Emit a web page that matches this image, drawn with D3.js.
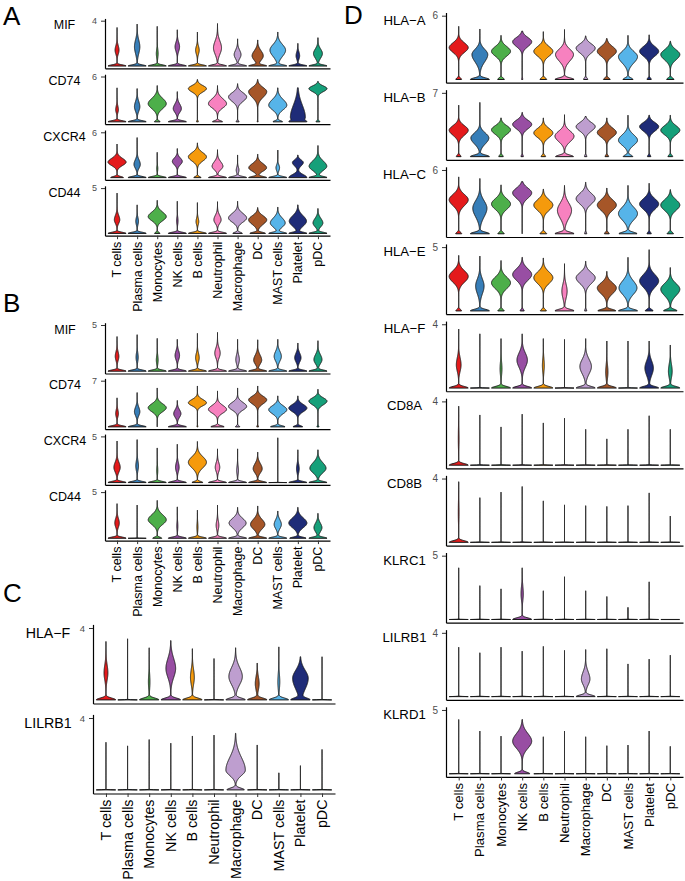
<!DOCTYPE html>
<html><head><meta charset="utf-8">
<script src="https://cdn.jsdelivr.net/npm/d3@7"></script>
<style>body{margin:0;background:#fff}svg{display:block}text{font-family:"Liberation Sans",Arial,Helvetica,sans-serif}</style>
</head><body>
<script>
// ---------------- DATA ----------------
const cellTypes = ["T cells","Plasma cells","Monocytes","NK cells","B cells","Neutrophil","Macrophage","DC","MAST cells","Platelet","pDC"];
const cellColors = ["#E41A1C","#377EB8","#4DAF4A","#984EA3","#F59A0C","#F781BF","#BE9ECF","#A65628","#56B4E9","#1F2C78","#16A07A"];

// violin parameters per cell type: [max, mode, bulgeWidth, sdBelow, sdAbove, zeroWidth, (zeroSpread)]
const panelA_genes = ["MIF","CD74","CXCR4","CD44"];
const panelA_ticks = [4,6,6,5];
const A_MIF = [[3.4,1.4,0.22,0.35,0.4,1],[3.7,1.7,0.3,0.6,0.6,1],[3.5,1.1,0.1,0.4,0.4,1],[3.2,1.7,0.25,0.4,0.4,1],[3.0,1.4,0.2,0.35,0.35,1],[3.75,1.6,0.45,0.55,0.6,1],[2.4,1.0,0.38,0.35,0.4,1],[2.3,0.9,0.65,0.4,0.45,1],[3.0,1.4,0.85,0.55,0.5,0.95],[2.0,0.9,0.2,0.3,0.35,1],[2.5,1.1,0.5,0.4,0.4,1]];
const A_CD74 = [[4.5,1.6,0.15,0.4,0.5,1],[4.4,2.0,0.3,0.6,0.7,1],[4.8,2.4,0.95,0.65,0.7,0.3],[4.0,1.75,0.45,0.5,0.6,1],[5.6,4.4,1,0.45,0.4,0.1],[4.8,2.4,0.9,0.55,0.65,0.5],[5.05,3.3,0.95,0.6,0.55,0.15],[5.6,4.0,1,0.75,0.55,0.05],[4.5,2.2,0.95,0.6,0.75,0.5],[4.5,0.6,1,0.5,1.6,0.7],[5.35,4.4,0.95,0.4,0.35,0.2]];
const A_CXCR4 = [[4.45,2.05,0.85,0.45,0.5,0.6],[5.3,1.75,0.35,0.5,0.6,1],[3.35,1.2,0.06,0.4,0.4,1],[3.85,2.15,0.55,0.45,0.45,1],[4.6,2.75,1,0.55,0.55,0.4],[3.7,1.5,0.6,0.45,0.6,1],[3.0,1.0,0.15,0.4,0.4,1],[3.1,1.3,0.9,0.45,0.55,0.9],[3.65,1.3,0.2,0.4,0.4,1],[3.0,2.0,0.6,0.45,0.35,1,0.4],[4.25,1.5,1,0.55,0.7,1]];
const A_CD44 = [[4.45,1.5,0.3,0.4,0.5,1],[3.15,1.35,0.15,0.4,0.4,1],[3.65,1.85,1,0.45,0.5,0.3],[3.55,1.4,0.08,0.4,0.4,1],[3.4,1.3,0.15,0.35,0.4,1],[3.5,1.5,0.4,0.4,0.5,1],[3.55,1.7,0.95,0.45,0.5,0.5],[2.85,1.5,1,0.5,0.45,0.85],[2.9,1.15,0.85,0.45,0.55,1],[3.15,1.35,1,0.55,0.6,1],[2.75,1.15,0.55,0.4,0.5,1]];

const panelB_genes = ["MIF","CD74","CXCR4","CD44"];
const panelB_ticks = [5,7,5,5];
const B_MIF = [[3.75,1.6,0.2,0.45,0.5,1],[3.95,1.5,0.12,0.45,0.5,1],[3.55,1.2,0.1,0.45,0.5,1],[3.45,1.7,0.25,0.45,0.5,1],[4.1,1.45,0.2,0.45,0.5,1],[4.2,1.95,0.3,0.5,0.55,1],[3.45,1.25,0.2,0.45,0.5,1],[3.4,1.2,0.45,0.45,0.55,1],[3.45,1.6,0.4,0.5,0.55,1],[3.05,1.45,0.35,0.45,0.5,1],[3.3,1.25,0.45,0.45,0.55,1]];
const B_CD74 = [[4.4,2.0,0.15,0.5,0.6,1],[5.2,2.3,0.3,0.6,0.7,1],[5.9,2.9,1,0.6,0.6,0],[4.0,2.0,0.4,0.55,0.6,1],[6.2,3.65,1,0.45,0.5,0.05],[5.45,2.65,0.75,0.55,0.6,0.55],[5.9,3.1,0.85,0.55,0.6,0.2],[6.2,4.1,1,0.6,0.55,0.1],[4.7,2.6,1,0.6,0.6,0.8],[4.7,2.85,0.95,0.55,0.55,0.5],[5.7,3.9,0.9,0.55,0.5,0.1]];
const B_CXCR4 = [[4.5,1.65,0.35,0.5,0.55,1],[4.65,1.8,0.15,0.5,0.55,1],[3.75,1.3,0.06,0.45,0.5,1],[4.15,1.65,0.2,0.45,0.5,1],[4.45,2.2,1,0.6,0.6,0.6],[3.65,1.65,0.25,0.45,0.5,1],[3.65,1.3,0.1,0.45,0.5,1],[3.3,1.5,0.5,0.45,0.55,1],[4.85,0,0,1,1,1,0.01],[3.55,1.5,0.15,0.45,0.5,1],[3.55,1.55,0.9,0.5,0.6,1]];
const B_CD44 = [[3.75,1.65,0.25,0.45,0.5,1],[3.6,0,0,1,1,1,0.01],[4.1,2.0,1,0.5,0.55,0.5],[3.4,1.3,0.06,0.45,0.5,1],[3.05,1.2,0.06,0.45,0.5,1],[3.6,1.4,0.15,0.45,0.5,1],[3.35,1.65,0.85,0.5,0.5,0.9],[3.5,1.5,0.8,0.5,0.55,1],[2.95,1.5,0.4,0.45,0.5,1],[3.35,1.65,1,0.5,0.55,0.9],[2.7,1.15,0.45,0.45,0.5,1]];

const panelC_genes = ["HLA\u2212F","LILRB1"];
const panelC_ticks = [4,4];
const C_HLAF = [[3.25,1.5,0.2,0.4,0.45,1],[3.4,0,0,1,1,1,0.01],[2.9,1.0,0.08,0.4,0.45,1],[3.3,1.75,0.5,0.5,0.55,1],[2.85,1.25,0.2,0.4,0.45,1],[2.3,0,0,1,1,1,0.01],[2.9,1.3,0.7,0.45,0.5,1],[2.05,0.9,0.2,0.35,0.4,1],[2.95,1.0,0.1,0.4,0.45,1],[2.4,1.2,0.9,0.6,0.45,1],[2.4,0,0,1,1,1,0.01]];
const C_LILRB1 = [[2.65,0,0,1,1,1,0.01],[2.45,0,0,1,1,1,0.01],[2.8,0,0,1,1,1,0.01],[2.6,0,0,1,1,1,0.01],[3.0,0,0,1,1,1,0.01],[3.05,0,0,1,1,1,0.01],[3.15,1.1,1,0.3,0.7,0.9],[2.5,0,0,1,1,1,0.01],[0.95,0,0,1,1,1,0.01],[1.35,0,0,1,1,1,0.01],[2.25,0,0,1,1,1,0.01]];

const panelD_genes = ["HLA\u2212A","HLA\u2212B","HLA\u2212C","HLA\u2212E","HLA\u2212F","CD8A","CD8B","KLRC1","LILRB1","KLRD1"];
const panelD_ticks = [6,7,6,5,4,4,4,5,4,5];
const D_HLAA = [[5.0,3.0,1,0.45,0.45,0.3],[4.75,2.35,0.75,0.7,0.5,0.9],[4.15,2.65,0.85,0.45,0.45,0.3],[4.55,3.55,0.85,0.45,0.4,0.05],[4.5,2.65,0.85,0.45,0.45,0.3],[4.7,2.35,0.85,0.6,0.5,0.9],[4.1,2.95,0.9,0.45,0.4,0.2],[3.85,2.65,0.85,0.45,0.45,0.3],[4.15,2.15,0.95,0.6,0.5,0.5],[4.2,2.65,0.9,0.45,0.45,0.2],[3.6,2.35,0.9,0.5,0.45,0.35]];
const D_HLAB = [[5.65,2.9,1,0.55,0.5,0.25],[5.95,2.05,0.95,0.65,0.55,1],[4.25,2.95,0.85,0.5,0.45,0.2],[4.85,3.55,0.8,0.5,0.45,0.1],[4.25,2.6,0.85,0.5,0.5,0.2],[4.6,2.25,0.85,0.6,0.55,0.8],[4.4,3.3,0.8,0.5,0.45,0.1],[4.25,2.65,0.8,0.5,0.5,0.15],[4.55,1.8,0.8,0.55,0.6,0.4],[4.55,3.3,0.85,0.5,0.45,0.15],[4.55,2.9,0.8,0.5,0.5,0.2]];
const D_HLAC = [[5.35,3.2,0.95,0.55,0.5,0.3],[5.2,2.4,0.75,0.8,0.7,1],[4.6,2.8,0.9,0.5,0.5,0.3],[4.9,3.85,0.9,0.5,0.45,0],[4.2,2.7,0.85,0.5,0.5,0.3],[4.55,2.2,0.75,0.75,0.7,1],[4.85,3.3,0.9,0.5,0.5,0.1],[4.3,2.7,0.8,0.5,0.5,0.2],[4.55,1.9,0.9,0.6,0.6,0.85],[4.75,2.8,0.9,0.5,0.5,0.2],[4.15,2.7,0.9,0.5,0.5,0.3]];
const D_HLAE = [[4.35,2.7,1,0.45,0.45,0.3],[4.3,1.95,0.4,0.6,0.55,0.9],[3.95,2.2,0.9,0.45,0.45,0.3],[4.2,2.85,0.95,0.45,0.45,0.2],[4.15,2.6,0.95,0.45,0.45,0.3],[3.7,1.55,0.25,0.55,0.55,0.9],[3.9,2.6,0.9,0.45,0.4,0.1],[3.1,1.8,0.9,0.45,0.4,0.85],[4.2,1.8,0.85,0.5,0.55,0.9],[4.8,2.35,0.85,0.5,0.5,0.35],[3.4,1.7,0.85,0.5,0.45,0.6]];
const D_HLAF = [[3.7,1.45,0.25,0.4,0.45,1],[3.4,0,0,1,1,1,0.01],[3.1,1.2,0.1,0.4,0.45,1],[3.4,1.75,0.55,0.45,0.45,1],[3.1,1.4,0.1,0.4,0.45,1],[3.05,0,0,1,1,1,0.01],[3.1,1.35,0.55,0.45,0.45,0.9],[2.95,1.0,0.12,0.4,0.45,1],[2.95,0,0,1,1,1,0.01],[2.95,1.25,0.45,0.45,0.45,1],[2.7,1.05,0.2,0.4,0.45,1]];
const D_CD8A = [[3.7,1.6,0.04,0.6,0.8,1],[3.15,0,0,1,1,1,0.01],[2.4,0,0,1,1,1,0.01],[3.2,0,0,1,1,1,0.01],[2.65,0,0,1,1,1,0.01],[2.95,0,0,1,1,1,0.01],[2.25,0,0,1,1,1,0.01],[1.65,0,0,1,1,1,0.01],[2.25,0,0,1,1,1,0.01],[3.1,0,0,1,1,1,0.01],[2.25,0,0,1,1,1,0.01]];
const D_CD8B = [[3.8,1.8,0.04,0.6,0.8,1],[2.8,0,0,1,1,1,0.01],[3.15,0,0,1,1,1,0.01],[3.5,0,0,1,1,1,0.01],[2.6,0,0,1,1,1,0.01],[2.35,0,0,1,1,1,0.01],[2.3,0,0,1,1,1,0.01],[2.25,0,0,1,1,1,0.01],[2.3,0,0,1,1,1,0.01],[3.1,0,0,1,1,1,0.01],[1.65,0,0,1,1,1,0.01]];
const D_KLRC1 = [[4.05,0,0,1,1,1,0.01],[2.65,0,0,1,1,1,0.01],[2.4,0,0,1,1,1,0.01],[4.05,2.0,0.12,0.5,0.6,1],[2.25,0,0,1,1,1,0.01],[3.35,0,0,1,1,1,0.01],[2.25,0,0,1,1,1,0.01],[1.8,0,0,1,1,1,0.01],[0.95,0,0,1,1,1,0.01],[2.95,0,0,1,1,1,0.01],[0,0,0,1,1,1,0.01]];
const D_LILRB1 = [[3.1,0,0,1,1,1,0.01],[2.75,0,0,1,1,1,0.01],[3.1,0,0,1,1,1,0.01],[2.85,0,0,1,1,1,0.01],[3.15,0,0,1,1,1,0.01],[2.9,0,0,1,1,1,0.01],[2.95,1.1,0.45,0.35,0.45,1],[3.0,0,0,1,1,1,0.01],[2.05,0,0,1,1,1,0.01],[2.35,0,0,1,1,1,0.01],[2.6,0,0,1,1,1,0.01]];
const D_KLRD1 = [[4.25,0,0,1,1,1,0.01],[3.35,0,0,1,1,1,0.01],[2.95,0,0,1,1,1,0.01],[4.25,2.55,1,0.55,0.6,0.8],[2.9,0,0,1,1,1,0.01],[3.35,0,0,1,1,1,0.01],[2.9,0,0,1,1,1,0.01],[2.2,0,0,1,1,1,0.01],[2.25,0,0,1,1,1,0.01],[3.35,0,0,1,1,1,0.01],[2.15,0,0,1,1,1,0.01]];

// ---------------- DRAW ----------------
const svg = d3.select("body").append("svg").attr("width",685).attr("height",881);
svg.append("rect").attr("width",685).attr("height",881).attr("fill","#fff");

const panels = [
  {letter:"A", lx:3, ly:25, genes:panelA_genes, ticks:panelA_ticks, data:[A_MIF,A_CD74,A_CXCR4,A_CD44],
   x0:105, x1:330, tick0:20.7, step:55.8, h:47.6, labelX:64.5, labelFs:12.5, tickFs:9, xFs:12.5},
  {letter:"B", lx:3, ly:312, genes:panelB_genes, ticks:panelB_ticks, data:[B_MIF,B_CD74,B_CXCR4,B_CD44],
   x0:105, x1:330, tick0:325, step:55.7, h:48.5, labelX:65, labelFs:12.5, tickFs:9, xFs:12.5},
  {letter:"C", lx:3, ly:602, genes:panelC_genes, ticks:panelC_ticks, data:[C_HLAF,C_LILRB1],
   x0:93, x1:335, tick0:628, step:90, h:75.5, labelX:48, labelFs:14.2, tickFs:9.5, xFs:14.3},
  {letter:"D", lx:344, ly:24, genes:panelD_genes, ticks:panelD_ticks, data:[D_HLAA,D_HLAB,D_HLAC,D_HLAE,D_HLAF,D_CD8A,D_CD8B,D_KLRC1,D_LILRB1,D_KLRD1],
   x0:446, x1:683, tick0:15.7, step:77.14, h:67, labelX:404.5, labelFs:13.2, tickFs:10, xFs:13.2}
];

function violinPoints(p, T){
  const [top, mode, bw, sdLo, sdHi, zw, zsIn] = p;
  const zs = zsIn !== undefined ? zsIn : 0.025*T;
  const N = 220;
  const pts = d3.range(N+1).map(i => {
    const v = top*i/N;
    const sd = v < mode ? sdLo : sdHi;
    const w = bw*Math.exp(-0.5*Math.pow((v-mode)/sd,2)) + zw*Math.exp(-0.5*Math.pow(v/zs,2));
    return {v, w};
  });
  const m = d3.max(pts, d => d.w) || 1;
  pts.forEach(d => d.w = d.w/m);
  return pts;
}

panels.forEach(P => {
  const g = svg.append("g");
  g.append("text").attr("x",P.lx).attr("y",P.ly).attr("font-size",26).attr("fill","#000").text(P.letter);
  const x = d3.scalePoint().domain(cellTypes).range([P.x0, P.x1]).padding(0.6);
  const hw = 0.45*x.step();
  P.genes.forEach((gene, gi) => {
    const T = P.ticks[gi];
    const tickY = P.tick0 + gi*P.step;
    const bottom = tickY + P.h;
    const y = d3.scaleLinear().domain([-0.05*T, 1.05*T]).range([bottom, tickY - P.h*0.05/1.05]);
    const row = g.append("g");
    // violins
    P.data[gi].forEach((p, ci) => {
      const cx = x(cellTypes[ci]);
      if (p[0] <= 0) {
        row.append("line").attr("x1",cx-hw).attr("x2",cx+hw).attr("y1",y(0)).attr("y2",y(0))
          .attr("stroke","#1a1a1a").attr("stroke-width",1.1);
        return;
      }
      const pts = violinPoints(p, T);
      const area = d3.area().y(d => y(d.v)).x0(d => cx - d.w*hw).x1(d => cx + d.w*hw);
      row.append("path").attr("d", area(pts)).attr("fill", cellColors[ci])
        .attr("stroke","#1a1a1a").attr("stroke-width",1).attr("stroke-linejoin","round");
    });
    // y axis
    const ya = row.append("g").attr("transform",`translate(${P.x0},0)`)
      .call(d3.axisLeft(y).tickValues([T]).tickFormat(d3.format("d")).tickSize(4).tickSizeOuter(0).tickPadding(4));
    ya.select(".domain").attr("stroke","#000").attr("stroke-width",1.2);
    ya.selectAll(".tick line").attr("stroke","#333").attr("stroke-width",1);
    ya.selectAll(".tick text").attr("font-size",P.tickFs).attr("fill","#4d4d4d").attr("font-family",null);
    // x axis
    const last = gi === P.genes.length-1;
    const xa = row.append("g").attr("transform",`translate(0,${bottom})`)
      .call(d3.axisBottom(x).tickSize(last ? 3.5 : 0).tickSizeOuter(0).tickFormat(""));
    xa.select(".domain").attr("stroke","#000").attr("stroke-width",1.2);
    xa.selectAll(".tick line").attr("stroke","#333").attr("stroke-width",1);
    if (last) {
      cellTypes.forEach(c => {
        row.append("text").attr("transform",`translate(${x(c)},${bottom+6}) rotate(-90)`)
          .attr("text-anchor","end").attr("dy","0.35em").attr("font-size",P.xFs).attr("fill","#000").text(c);
      });
    }
    // gene label
    row.append("text").attr("x",P.labelX).attr("y",tickY + 0.72*P.labelFs - 0.5)
      .attr("text-anchor","middle").attr("font-size",P.labelFs).attr("fill","#000").text(gene);
  });
});
</script>
</body></html>
